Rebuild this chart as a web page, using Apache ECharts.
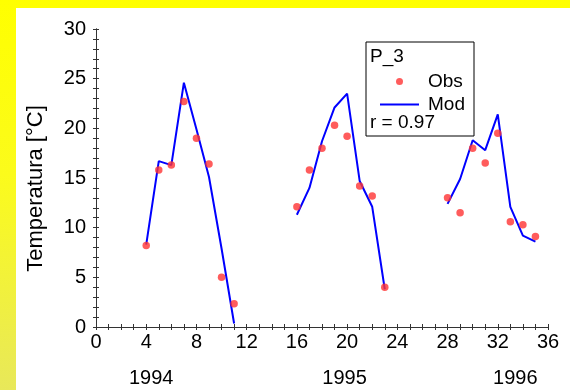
<!DOCTYPE html>
<html><head><meta charset="utf-8">
<script src="https://cdn.jsdelivr.net/npm/echarts@6/dist/echarts.min.js"></script>
<style>
html,body{margin:0;padding:0;width:570px;height:390px;overflow:hidden;background:linear-gradient(to bottom,#ffff00 0%,#fbfb1c 45%,#e8e85a 100%);}
#panel{position:absolute;left:16px;top:8px;width:554px;height:382px;background:#ffffff;}
#chart{position:absolute;left:0;top:0;width:570px;height:390px;}
</style></head><body><div id="panel"></div><div id="chart"></div>
<script>
// ---- data ----
const months1994 = [4, 5, 6, 7, 8, 9, 10, 11];
const obs1994    = [8.2, 15.8, 16.3, 22.7, 19.0, 16.4, 5.0, 2.35];
const mod1994    = [8.3, 16.7, 16.3, 24.6, 19.9, 15.1, 7.9, 0.35];
const months1995 = [16, 17, 18, 19, 20, 21, 22, 23];
const obs1995    = [12.1, 15.8, 18.0, 20.3, 19.2, 14.2, 13.2, 4.0];
const mod1995    = [11.3, 14.0, 18.7, 22.1, 23.5, 14.7, 12.1, 3.8];
const months1996 = [28, 29, 30, 31, 32, 33, 34, 35];
const obs1996    = [13.0, 11.5, 18.0, 16.5, 19.5, 10.6, 10.3, 9.1];
const mod1996    = [12.4, 14.9, 18.8, 17.8, 21.4, 12.1, 9.2, 8.6];
const yearLabels = ['1994', '1995', '1996'];
const xTickLabels = ['0', '4', '8', '12', '16', '20', '24', '28', '32', '36'];
const yTickLabels = ['0', '5', '10', '15', '20', '25', '30'];
const stationName = 'P_3';
const correlation = 'r = 0.97';
const yAxisTitle = 'Temperatura [°C]';

// ---- build ----
const FONT = "'Liberation Sans', Arial, sans-serif";
const pairs = (xs, ys) => xs.map((x, i) => [x, ys[i]]);
const obsData = pairs(months1994, obs1994).concat(pairs(months1995, obs1995), pairs(months1996, obs1996));
const modSets = [pairs(months1994, mod1994), pairs(months1995, mod1995), pairs(months1996, mod1996)];
const yearPos = [4.4, 19.8, 33.4];

const axisLine = { show: true, lineStyle: { color: '#333', width: 1 } };
const tick = { show: true, inside: true, length: 3, lineStyle: { color: '#333' } };
const minor = n => ({ show: true, splitNumber: n, length: 3, lineStyle: { color: '#333' } });

const chart = echarts.init(document.getElementById('chart'), null, { renderer: 'canvas' });
chart.setOption({
  animation: false,
  backgroundColor: 'transparent',
  grid: { left: 96, top: 29, right: 22, bottom: 63, containLabel: false },
  xAxis: [
    { type: 'value', position: 'bottom', min: 0, max: 36, interval: 4,
      axisLine, axisTick: tick, minorTick: minor(4), splitLine: { show: false },
      axisLabel: { fontSize: 20, fontFamily: FONT, color: '#000', margin: 5,
        formatter: v => xTickLabels[Math.round(v / 4)] } },
    { type: 'value', position: 'top', min: 0, max: 36, interval: 4,
      axisLine, axisTick: tick, minorTick: minor(4), splitLine: { show: false },
      axisLabel: { show: false } },
    { type: 'value', position: 'bottom', offset: 35, min: 0, max: 36,
      axisLine: { show: false }, axisTick: { show: false }, splitLine: { show: false },
      axisLabel: { show: true, fontSize: 20, fontFamily: FONT, color: '#000', margin: 6,
        customValues: yearPos,
        formatter: v => { const i = yearPos.findIndex(p => Math.abs(p - v) < 1e-6); return i >= 0 ? yearLabels[i] : ''; } } }
  ],
  yAxis: [
    { type: 'value', position: 'left', min: 0, max: 30, interval: 5,
      axisLine, axisTick: tick, minorTick: minor(5), splitLine: { show: false },
      axisLabel: { fontSize: 20, fontFamily: FONT, color: '#000', margin: 10,
        formatter: v => yTickLabels[Math.round(v / 5)] },
      name: yAxisTitle, nameLocation: 'middle', nameGap: 49,
      nameTextStyle: { fontSize: 22, fontFamily: FONT, color: '#000', padding: [0, 21, 0, 0] } },
    { type: 'value', position: 'right', min: 0, max: 30, interval: 5,
      axisLine, axisTick: tick, minorTick: minor(5), splitLine: { show: false },
      axisLabel: { show: false } }
  ],
  legend: {
    orient: 'vertical', left: 374, top: 67, itemWidth: 39, itemHeight: 7, itemGap: 4,
    data: ['Obs', { name: 'Mod', itemStyle: { color: 'rgba(0,0,0,0)', borderWidth: 0 } }],
    selectedMode: false,
    textStyle: { fontSize: 19, fontFamily: FONT, color: '#000', padding: [0, 0, 0, 4] }
  },
  graphic: [
    { type: 'rect', shape: { x: 366, y: 42, width: 108, height: 94 },
      style: { fill: 'none', stroke: '#000', lineWidth: 1 } },
    { type: 'text', x: 370, y: 57, style: { text: stationName, fontSize: 19, fontFamily: FONT, fill: '#000', textVerticalAlign: 'middle' } },
    { type: 'text', x: 370, y: 123, style: { text: correlation, fontSize: 19, fontFamily: FONT, fill: '#000', textVerticalAlign: 'middle' } }
  ],
  series: [
    { name: 'Obs', type: 'scatter', data: obsData, symbol: 'circle', symbolSize: 7.5,
      itemStyle: { color: '#ff3333' }, z: 3 },
    ...modSets.map(d => ({ name: 'Mod', type: 'line', data: d, symbol: 'none', showSymbol: false,
      lineStyle: { color: '#0000ff', width: 2 }, itemStyle: { color: '#0000ff' }, z: 2 }))
  ]
});
</script></body></html>
